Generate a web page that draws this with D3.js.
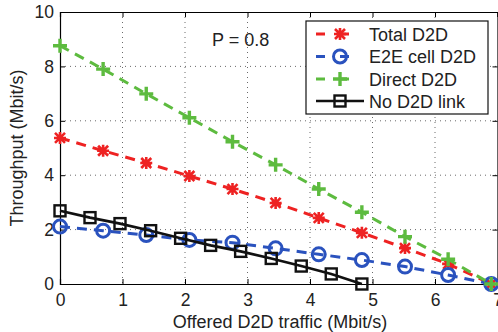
<!DOCTYPE html>
<html><head><meta charset="utf-8">
<script src="https://cdn.jsdelivr.net/npm/d3@7"></script>
<style>body{margin:0;background:#fff;}svg{display:block;font-family:"Liberation Sans",Arial,sans-serif;}</style>
</head><body><svg id="c" width="498" height="332"></svg>
<script>
const xTicks = [0,1,2,3,4,5,6,7];
const yTicks = [0,2,4,6,8,10];
const xD2D = [0,0.69,1.38,2.07,2.76,3.45,4.14,4.83,5.52,6.21,6.9];
const totalD2D = [5.37,4.9,4.45,3.97,3.49,2.98,2.43,1.88,1.32,0.74,0];
const e2eD2D = [2.11,1.96,1.8,1.62,1.52,1.31,1.09,0.88,0.64,0.33,0];
const directD2D = [8.76,7.9,6.99,6.11,5.23,4.38,3.49,2.64,1.74,0.91,0];
const xNoLink = [0,0.48,0.96,1.45,1.93,2.41,2.89,3.38,3.86,4.34,4.83];
const noD2D = [2.69,2.44,2.22,1.96,1.68,1.42,1.2,0.94,0.66,0.37,0];
const seriesNames = ["Total D2D","E2E cell D2D","Direct D2D","No D2D link"];
const colors = ["#ee2222","#2a52be","#5dbb3f","#111111"];

const FS = 18, TFS = 17.5;
const svg = d3.select("#c");
const L=60,R=497.5,T=12,B=284;
const x = d3.scaleLinear().domain([0,7]).range([L,R]);
const y = d3.scaleLinear().domain([0,10]).range([B,T]);

// grid
const g = svg.append("g");
g.selectAll(".gx").data(xTicks.filter(d=>d>0&&d<7)).enter().append("line")
 .attr("x1",d=>x(d)).attr("x2",d=>x(d)).attr("y1",T).attr("y2",B)
 .attr("stroke","#444").attr("stroke-width",0.8).attr("stroke-dasharray","1,4");
g.selectAll(".gy").data(yTicks.filter(d=>d>0&&d<10)).enter().append("line")
 .attr("y1",d=>y(d)).attr("y2",d=>y(d)).attr("x1",L).attr("x2",R)
 .attr("stroke","#444").attr("stroke-width",0.8).attr("stroke-dasharray","1,4");

// axes
const xa = svg.append("g").attr("transform",`translate(0,${B})`)
 .call(d3.axisBottom(x).tickValues(xTicks).tickSize(-5).tickPadding(10).tickFormat(d3.format("d")));
const xt = svg.append("g").attr("transform",`translate(0,${T})`)
 .call(d3.axisTop(x).tickValues(xTicks).tickSize(-5).tickFormat(""));
const ya = svg.append("g").attr("transform",`translate(${L},0)`)
 .call(d3.axisLeft(y).tickValues(yTicks).tickSize(-5).tickPadding(6).tickFormat(d3.format("d")));
const yr = svg.append("g").attr("transform",`translate(${R},0)`)
 .call(d3.axisRight(y).tickValues(yTicks).tickSize(-5).tickFormat(""));
[xa,xt,ya,yr].forEach(a=>{
  a.selectAll("path").attr("stroke","#000").attr("stroke-width",1.2);
  a.selectAll("line").attr("stroke","#000").attr("stroke-width",1);
  a.selectAll("text").attr("font-size",TFS).attr("fill","#222").attr("font-family","Liberation Sans, Arial, sans-serif");
});

// markers
function marker(sel,i,cx,cy){
  const c=colors[i];
  if(i===0){
    const s=5;
    sel.append("path").attr("d",`M${cx-s},${cy-s}L${cx+s},${cy+s}M${cx-s},${cy+s}L${cx+s},${cy-s}M${cx-6},${cy}L${cx+6},${cy}M${cx},${cy-6}L${cx},${cy+6}`)
     .attr("stroke",c).attr("stroke-width",2.6).attr("fill","none");
  } else if(i===1){
    sel.append("circle").attr("cx",cx).attr("cy",cy).attr("r",6.5).attr("fill","none").attr("stroke",c).attr("stroke-width",3);
  } else if(i===2){
    sel.append("path").attr("d",`M${cx-7},${cy}L${cx+7},${cy}M${cx},${cy-7}L${cx},${cy+7}`)
     .attr("stroke",c).attr("stroke-width",3.4).attr("fill","none");
  } else {
    sel.append("rect").attr("x",cx-5.5).attr("y",cy-5.5).attr("width",11).attr("height",11)
     .attr("fill","none").attr("stroke",c).attr("stroke-width",2.4);
  }
}
const series = [
  {xs:xD2D, ys:totalD2D, dash:"10,7", w:3},
  {xs:xD2D, ys:e2eD2D, dash:"10,7", w:3},
  {xs:xD2D, ys:directD2D, dash:"10,7", w:3},
  {xs:xNoLink, ys:noD2D, dash:null, w:2.6}
];
const line = d3.line().x(d=>x(d[0])).y(d=>y(d[1]));
series.forEach((s,i)=>{
  const pts = s.xs.map((v,j)=>[v,s.ys[j]]);
  const p = svg.append("path").attr("d",line(pts)).attr("fill","none")
   .attr("stroke",colors[i]).attr("stroke-width",s.w);
  if(s.dash) p.attr("stroke-dasharray",s.dash);
  const mg = svg.append("g");
  pts.forEach(d=>marker(mg,i,x(d[0]),y(d[1])));
});

// annotation
svg.append("text").attr("x",212).attr("y",46).attr("font-size",FS).attr("fill","#222").text("P = 0.8");

// legend
const lg = svg.append("g");
lg.append("rect").attr("x",306).attr("y",21).attr("width",182).attr("height",93)
 .attr("fill","#fff").attr("stroke","#111").attr("stroke-width",1.2);
const rows=[34,56.5,79,101];
seriesNames.forEach((n,i)=>{
  const yy=rows[i];
  const ln=lg.append("line").attr("x1",316).attr("x2",364).attr("y1",yy).attr("y2",yy)
   .attr("stroke",colors[i]).attr("stroke-width",series[i].w);
  if(series[i].dash) ln.attr("stroke-dasharray","9,15");
  marker(lg,i,340,yy);
  lg.append("text").attr("x",369).attr("y",yy+6.5).attr("font-size",FS).attr("fill","#222").text(n);
});

// axis titles
svg.append("text").attr("x",280).attr("y",328).attr("text-anchor","middle").attr("font-size",FS).attr("fill","#222").text("Offered D2D traffic (Mbit/s)");
svg.append("text").attr("transform","translate(23,148) rotate(-90)").attr("text-anchor","middle").attr("font-size",FS).attr("fill","#222").text("Throughput (Mbit/s)");
</script></body></html>
